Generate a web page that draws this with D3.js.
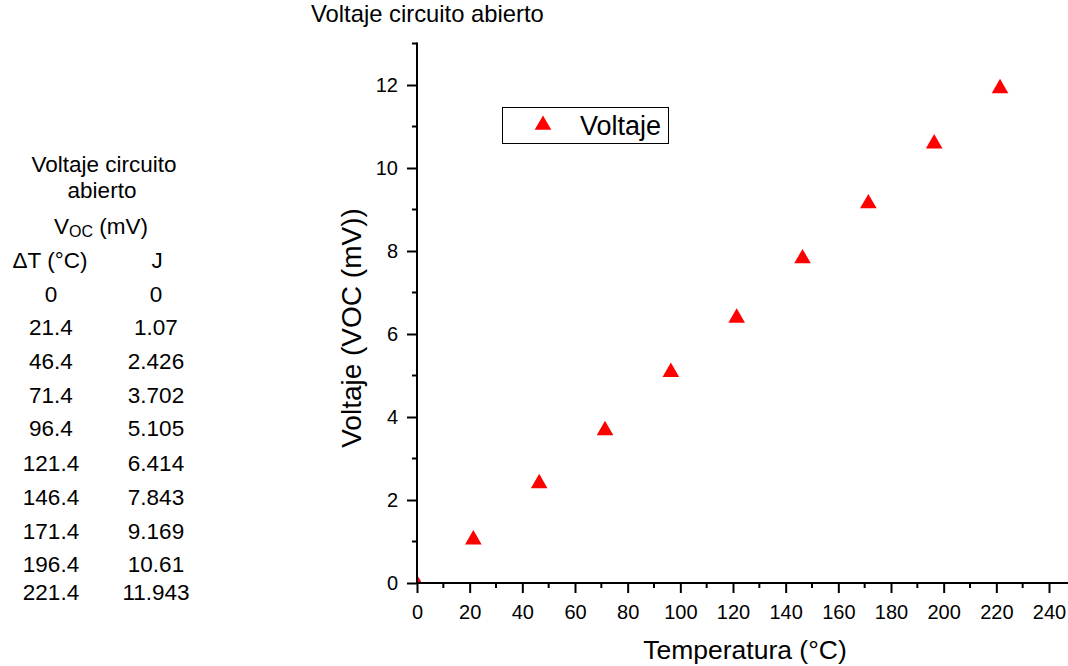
<!DOCTYPE html>
<html><head><meta charset="utf-8">
<script src="https://cdn.jsdelivr.net/npm/d3@7"></script>
<style>body{margin:0;background:#fff}svg{display:block;font-family:"Liberation Sans",Arial,sans-serif}</style>
</head><body><svg id="c" width="1068" height="666"></svg>
<script>
const deltaT = [0, 21.4, 46.4, 71.4, 96.4, 121.4, 146.4, 171.4, 196.4, 221.4];
const deltaTLabels = ["0","21.4","46.4","71.4","96.4","121.4","146.4","171.4","196.4","221.4"];
const voltage = [0, 1.07, 2.426, 3.702, 5.105, 6.414, 7.843, 9.169, 10.61, 11.943];
const voltageLabels = ["0","1.07","2.426","3.702","5.105","6.414","7.843","9.169","10.61","11.943"];
const xTicks = [0,20,40,60,80,100,120,140,160,180,200,220,240];
const yTicks = [0,2,4,6,8,10,12];
const seriesName = "Voltaje";

const svg = d3.select("#c");
const x0 = 417, y0 = 583;
const x = d3.scaleLinear().domain([0, 240]).range([x0, 1049]);
const y = d3.scaleLinear().domain([0, 12]).range([y0, 85]);
const xMax = x.invert(1068), yMax = 13;

// table
const tbl = svg.append("g").attr("font-size", 22.5).attr("fill", "#000").attr("text-anchor", "middle");
tbl.append("text").attr("x", 104).attr("y", 172).text("Voltaje circuito");
tbl.append("text").attr("x", 102).attr("y", 198).text("abierto");
const vt = tbl.append("text").attr("x", 101).attr("y", 234);
vt.append("tspan").text("V");
vt.append("tspan").attr("font-size", 16).attr("dy", 3).text("OC");
vt.append("tspan").attr("dy", -3).text(" (mV)");
tbl.append("text").attr("x", 50).attr("y", 268).text("ΔT (°C)");
tbl.append("text").attr("x", 157).attr("y", 268).text("J");
const rowY = [301.5,335,369,403,436,471,505,539,572,600];
deltaTLabels.forEach((t,i)=>{
  tbl.append("text").attr("x", 51).attr("y", rowY[i]).text(t);
  tbl.append("text").attr("x", 156).attr("y", rowY[i]).text(voltageLabels[i]);
});

// title
svg.append("text").attr("x", 311).attr("y", 22).attr("font-size", 23.8).text("Voltaje circuito abierto");

// clip
svg.append("clipPath").attr("id","clip").append("rect")
  .attr("x", x0).attr("y", y(yMax)).attr("width", x(xMax)-x0).attr("height", y0-y(yMax));

const tri = d3.symbol().type(d3.symbolTriangle).size(120);
svg.append("g").attr("clip-path","url(#clip)").selectAll("path").data(deltaT).join("path")
  .attr("d", tri).attr("fill", "#ff0000")
  .attr("transform", (d,i)=>`translate(${x(d)},${y(voltage[i])+1})`);

// axes
const xMinor = d3.range(10, 250, 20);
const yMinor = d3.range(1, 14, 2);
const gx = svg.append("g").attr("transform", `translate(0,${y0})`);
gx.call(d3.axisBottom(x).tickValues(xTicks).tickSize(10).tickPadding(12).tickFormat(d3.format("d")));
gx.attr("font-size", 20);
gx.selectAll("line").attr("stroke-width", 2);
gx.select(".domain").remove();
gx.selectAll(".mt").data(xMinor).join("line").attr("x1", d=>x(d)).attr("x2", d=>x(d)).attr("y1",0).attr("y2",5).attr("stroke","#000").attr("stroke-width",2);
gx.append("line").attr("x1", x0-1).attr("x2", 1068).attr("y1", 0).attr("y2", 0).attr("stroke","#000").attr("stroke-width",2);
gx.selectAll("text").attr("font-size", 20).attr("font-family", "Liberation Sans, Arial, sans-serif").attr("fill","#000");

const gy = svg.append("g").attr("transform", `translate(${x0},0)`);
gy.call(d3.axisLeft(y).tickValues(yTicks).tickSize(10).tickPadding(9).tickFormat(d3.format("d")));
gy.attr("font-size", 20);
gy.selectAll("line").attr("stroke-width", 2);
gy.select(".domain").remove();
gy.selectAll(".mt").data(yMinor).join("line").attr("y1", d=>y(d)).attr("y2", d=>y(d)).attr("x1",0).attr("x2",-5).attr("stroke","#000").attr("stroke-width",2);
gy.append("line").attr("x1", 0).attr("x2", 0).attr("y1", y(yMax)-1).attr("y2", y0+1).attr("stroke","#000").attr("stroke-width",2);
gy.selectAll("text").attr("font-size", 20).attr("font-family", "Liberation Sans, Arial, sans-serif").attr("fill","#000");

// axis labels
svg.append("text").attr("x", 745).attr("y", 659).attr("text-anchor","middle").attr("font-size", 26.5).text("Temperatura (°C)");
svg.append("text").attr("transform", "translate(361,328) rotate(-90)").attr("text-anchor","middle").attr("font-size", 28).text("Voltaje (VOC (mV))");

// legend
const lg = svg.append("g");
lg.append("rect").attr("x", 502.5).attr("y", 107.5).attr("width", 166).attr("height", 36).attr("fill","#fff").attr("stroke","#000").attr("stroke-width",1);
lg.append("path").attr("d", tri).attr("fill","#ff0000").attr("transform","translate(543,125)");
lg.append("text").attr("x", 580).attr("y", 135).attr("font-size", 27).text(seriesName);
</script></body></html>
